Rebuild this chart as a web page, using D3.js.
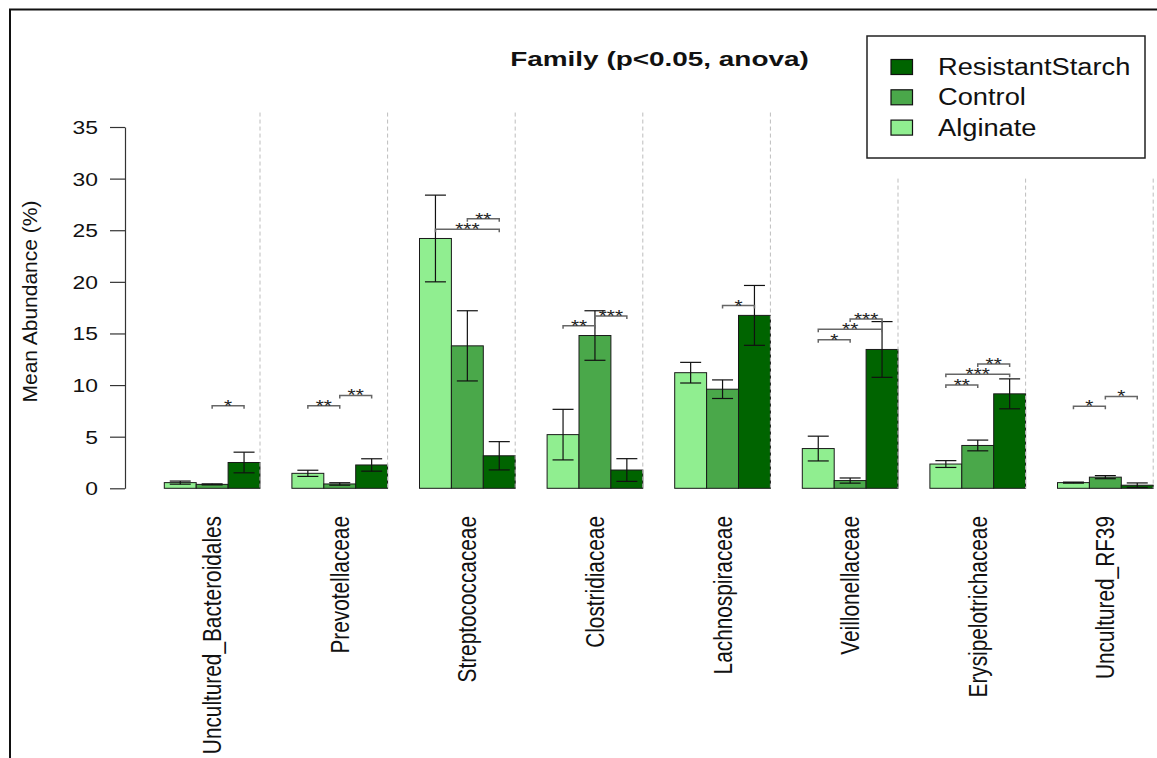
<!DOCTYPE html>
<html>
<head>
<meta charset="utf-8">
<script src="https://cdn.jsdelivr.net/npm/d3@7"></script>
<style>
  body { margin: 0; background: #fff; }
  svg text { font-family: "Liberation Sans", Arial, Helvetica, sans-serif; }
</style>
</head>
<body>
<svg id="chart" width="1157" height="758"></svg>
<script>
// data
const categories = ["Uncultured_Bacteroidales", "Prevotellaceae", "Streptococcaceae", "Clostridiaceae",
  "Lachnospiraceae", "Veillonellaceae", "Erysipelotrichaceae", "Uncultured_RF39"];
const series = ["Alginate", "Control", "ResistantStarch"];
const alginateMean = [0.55, 1.45, 24.2, 5.2, 11.2, 3.85, 2.35, 0.55];
const alginateErr  = [0.15, 0.3, 4.2, 2.45, 1.0, 1.2, 0.33, 0.05];
const controlMean  = [0.38, 0.42, 13.8, 14.8, 9.6, 0.75, 4.15, 1.08];
const controlErr   = [0.05, 0.12, 3.4, 2.4, 0.9, 0.25, 0.52, 0.15];
const rsMean       = [2.5, 2.26, 3.15, 1.77, 16.75, 13.45, 9.15, 0.3];
const rsErr        = [1.0, 0.6, 1.37, 1.1, 2.9, 2.7, 1.45, 0.22];
const yTicks = [0, 5, 10, 15, 20, 25, 30, 35];

// significance brackets: group, from series, to series, height, label
const sigGroup = [0, 1, 1, 2, 2, 3, 3, 4, 5, 5, 5, 6, 6, 6, 7, 7];
const sigFrom  = [1, 0, 1, 0, 1, 0, 1, 1, 0, 0, 1, 0, 0, 1, 0, 1];
const sigTo    = [2, 1, 2, 2, 2, 1, 2, 2, 1, 2, 2, 1, 2, 2, 1, 2];
const sigLevel = [8.0, 8.0, 9.0, 25.1, 26.1, 15.75, 16.7, 17.7, 14.4, 15.4, 16.4, 10.0, 11.05, 12.05, 7.95, 8.9];
const sigLabel = ["*", "**", "**", "***", "**", "**", "***", "*", "*", "**", "***", "**", "***", "**", "*", "*"];

const colors = { Alginate: "#90ee90", Control: "#4aa84a", ResistantStarch: "#006400" };
const means = { Alginate: alginateMean, Control: controlMean, ResistantStarch: rsMean };
const errs = { Alginate: alginateErr, Control: controlErr, ResistantStarch: rsErr };

const svg = d3.select("#chart");

// outer frame
svg.append("rect")
  .attr("x", 10).attr("y", 9.5)
  .attr("width", 1170).attr("height", 780)
  .attr("fill", "none").attr("stroke", "#111").attr("stroke-width", 2);

const y = d3.scaleLinear().domain([0, 35]).range([488.3, 127]);
const x0 = d3.scaleBand().domain(categories).range([132.4, 1153.2]).padding(0);
const x1 = d3.scaleBand().domain(series).range([x0.bandwidth() / 4, x0.bandwidth()]).padding(0);

const legendLeft = 867;

// bars
const groups = svg.append("g").selectAll("g")
  .data(categories)
  .join("g")
  .attr("transform", d => `translate(${x0(d)},0)`);

groups.selectAll("rect")
  .data((c, i) => series.map(s => ({ s, v: means[s][i], e: errs[s][i] })))
  .join("rect")
  .attr("x", d => x1(d.s))
  .attr("y", d => y(d.v))
  .attr("width", x1.bandwidth())
  .attr("height", d => y(0) - y(d.v))
  .attr("fill", d => colors[d.s])
  .attr("stroke", "#1a1a1a")
  .attr("stroke-width", 1);

// dashed separators (clipped below the legend box)
svg.append("g").selectAll("line")
  .data(categories)
  .join("line")
  .attr("x1", d => x0(d) + x0.bandwidth())
  .attr("x2", d => x0(d) + x0.bandwidth())
  .attr("y1", d => (x0(d) + x0.bandwidth() > legendLeft) ? y(30) : y(36.4))
  .attr("y2", y(0))
  .attr("stroke", "#bdbdbd")
  .attr("stroke-width", 1)
  .attr("stroke-dasharray", "4,3");

// error bars
const capHalf = 10.5;
const eb = groups.selectAll("g.err")
  .data((c, i) => series.map(s => ({ s, v: means[s][i], e: errs[s][i] })))
  .join("g").attr("class", "err")
  .attr("stroke", "#111").attr("stroke-width", 1.2);
eb.append("line")
  .attr("x1", d => x1(d.s) + x1.bandwidth() / 2)
  .attr("x2", d => x1(d.s) + x1.bandwidth() / 2)
  .attr("y1", d => y(d.v + d.e))
  .attr("y2", d => y(Math.max(0, d.v - d.e)));
eb.append("line")
  .attr("x1", d => x1(d.s) + x1.bandwidth() / 2 - capHalf)
  .attr("x2", d => x1(d.s) + x1.bandwidth() / 2 + capHalf)
  .attr("y1", d => y(d.v + d.e)).attr("y2", d => y(d.v + d.e));
eb.append("line")
  .attr("x1", d => x1(d.s) + x1.bandwidth() / 2 - capHalf)
  .attr("x2", d => x1(d.s) + x1.bandwidth() / 2 + capHalf)
  .attr("y1", d => y(Math.max(0, d.v - d.e))).attr("y2", d => y(Math.max(0, d.v - d.e)));

// significance brackets
const sig = sigGroup.map((g, i) => ({
  xa: x0(categories[g]) + x1(series[sigFrom[i]]) + x1.bandwidth() / 2,
  xb: x0(categories[g]) + x1(series[sigTo[i]]) + x1.bandwidth() / 2,
  yy: y(sigLevel[i]),
  label: sigLabel[i]
}));
const sg = svg.append("g").selectAll("g").data(sig).join("g");
sg.append("path")
  .attr("d", d => `M${d.xa},${d.yy + 3}V${d.yy}H${d.xb}V${d.yy + 3}`)
  .attr("fill", "none").attr("stroke", "#666").attr("stroke-width", 1.5);
sg.append("text")
  .attr("transform", d => `translate(${(d.xa + d.xb) / 2},${d.yy + 6}) scale(1.3,1)`)
  .attr("text-anchor", "middle")
  .attr("font-size", 16)
  .attr("fill", "#222")
  .text(d => d.label);

// y axis
const yAxis = svg.append("g")
  .attr("transform", "translate(125,0)")
  .call(d3.axisLeft(y).tickValues(yTicks).tickSize(15).tickSizeOuter(0));
yAxis.select(".domain").attr("stroke", "#333").attr("stroke-width", 1.2);
yAxis.selectAll(".tick line").attr("stroke", "#333").attr("stroke-width", 1.2);
yAxis.selectAll(".tick text")
  .attr("x", null).attr("dy", null)
  .attr("transform", "translate(-27,6.5) scale(1.27,1)")
  .attr("font-size", 18)
  .attr("font-family", "Liberation Sans, Arial, sans-serif")
  .attr("fill", "#111");

// y axis title
svg.append("text")
  .attr("transform", "translate(37,301.5) rotate(-90)")
  .attr("text-anchor", "middle")
  .attr("font-size", 21)
  .attr("fill", "#111")
  .text("Mean Abundance (%)");

// category labels
svg.append("g").selectAll("text")
  .data(categories)
  .join("text")
  .attr("transform", d => `translate(${x0(d) + x1("Control") + x1.bandwidth() / 2 + 9},516) scale(1.2,1) rotate(-90)`)
  .attr("text-anchor", "end")
  .attr("font-size", 20.8)
  .attr("fill", "#111")
  .text(d => d);

// title
svg.append("text")
  .attr("transform", "translate(659.5,66) scale(1.33,1)")
  .attr("text-anchor", "middle")
  .attr("font-size", 21)
  .attr("font-weight", "bold")
  .attr("fill", "#111")
  .text("Family (p<0.05, anova)");

// legend
const legend = svg.append("g");
legend.append("rect")
  .attr("x", 867).attr("y", 36)
  .attr("width", 278).attr("height", 122)
  .attr("fill", "#fff").attr("stroke", "#222").attr("stroke-width", 1.5);
const legendOrder = series.slice().reverse();
const li = legend.selectAll("g.item").data(legendOrder).join("g").attr("class", "item")
  .attr("transform", (d, i) => `translate(0,${i * 30.3})`);
li.append("rect")
  .attr("x", 891).attr("y", 59.5)
  .attr("width", 21.5).attr("height", 15)
  .attr("fill", d => colors[d]).attr("stroke", "#111").attr("stroke-width", 1.2);
li.append("text")
  .attr("transform", "translate(938,75) scale(1.16,1)")
  .attr("font-size", 23.5)
  .attr("fill", "#111")
  .text(d => d);
</script>
</body>
</html>
